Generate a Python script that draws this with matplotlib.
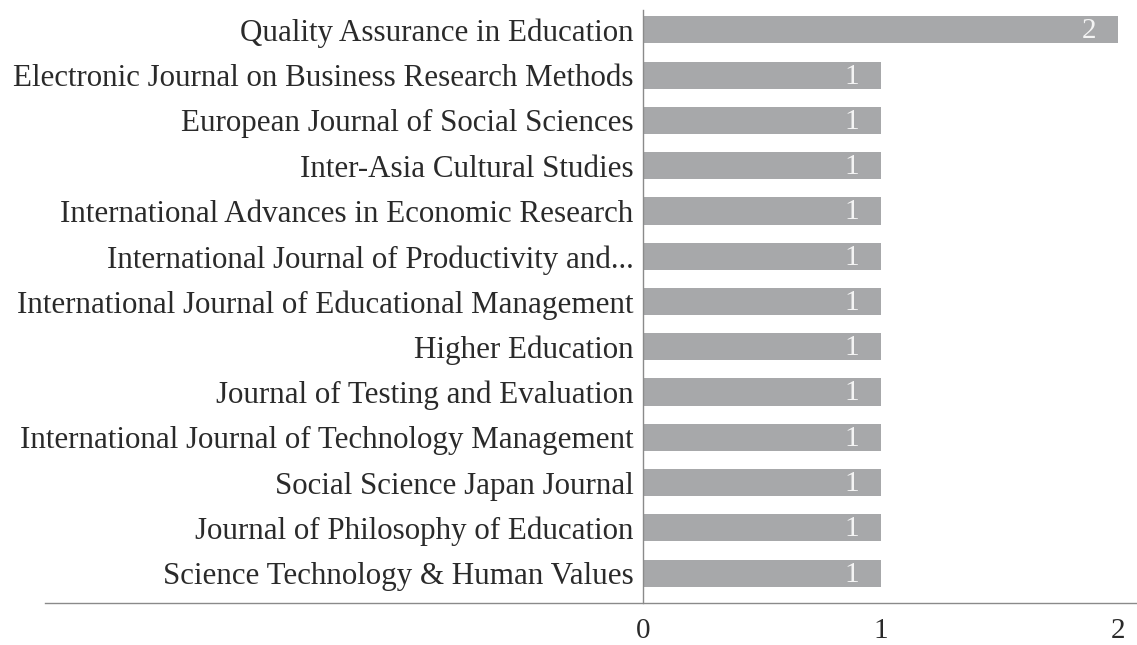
import matplotlib.pyplot as plt
from matplotlib.lines import Line2D

journals = [
    "Quality Assurance in Education",
    "Electronic Journal on Business Research Methods",
    "European Journal of Social Sciences",
    "Inter-Asia Cultural Studies",
    "International Advances in Economic Research",
    "International Journal of Productivity and...",
    "International Journal of Educational Management",
    "Higher Education",
    "Journal of Testing and Evaluation",
    "International Journal of Technology Management",
    "Social Science Japan Journal",
    "Journal of Philosophy of Education",
    "Science Technology & Human Values",
]
counts = [2, 1, 1, 1, 1, 1, 1, 1, 1, 1, 1, 1, 1]
ticks = [0, 1, 2]

plt.rcParams['font.family'] = ['Liberation Serif', 'DejaVu Serif']

fig = plt.figure(figsize=(11.37, 6.45), dpi=100)
ax = fig.add_axes([643 / 1137, 1 - 603 / 645, 1 - 643 / 1137, (603 - 10) / 645])

pos = list(range(len(journals)))
ax.barh(pos, counts, height=0.6, color='#a7a8aa')

# etiquetas de valor dentro de la barra
for p, c in zip(pos, counts):
    ax.annotate(str(c), (c, p), xytext=(-21, -1), textcoords='offset points',
                ha='center', va='center', color='#f4f4f4', fontsize=21)

ax.set_xlim(0, (1137 - 643) / 237.5)
ax.set_ylim(12.66, -0.44)
ax.set_yticks(pos)
ax.set_yticklabels(journals, fontsize=22.3, color='#2a2a2a')
ax.set_xticks(ticks)
ax.set_xticklabels([str(t) for t in ticks], fontsize=21, color='#2a2a2a')
ax.tick_params(length=0)
ax.tick_params(axis='y', pad=7)
ax.tick_params(axis='x', pad=11)

for s in ['top', 'right', 'bottom']:
    ax.spines[s].set_visible(False)
ax.spines['left'].set_color('#8a8a8a')
ax.spines['left'].set_linewidth(1)

# linea base que se extiende bajo las etiquetas
fig.add_artist(Line2D([45 / 1137, 1.0], [1 - 603 / 645, 1 - 603 / 645],
                      color='#8a8a8a', linewidth=1))

fig.savefig('out.png', dpi=100)
